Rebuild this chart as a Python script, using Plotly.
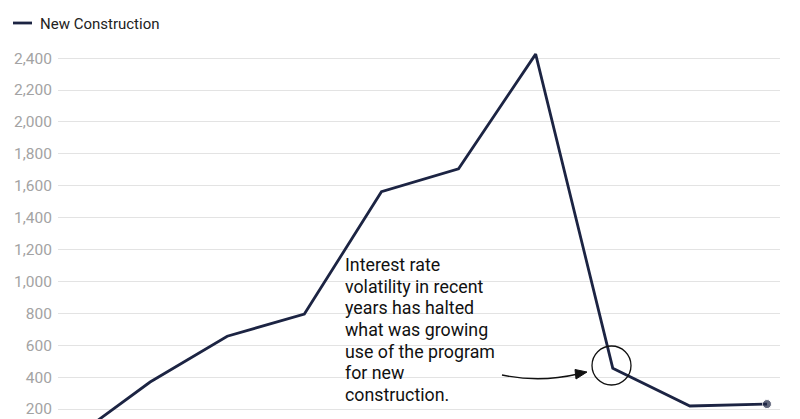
import plotly.graph_objects as go

# ---- data ----
years = [2014, 2015, 2016, 2017, 2018, 2019, 2020, 2021, 2022, 2023]
new_construction = [15, 369, 656, 795, 1562, 1706, 2425, 456, 219, 231]
y_ticks = [200, 400, 600, 800, 1000, 1200, 1400, 1600, 1800, 2000, 2200, 2400]
series_name = "New Construction"
note_lines = ["Interest rate", "volatility in recent", "years has halted", "what was growing",
              "use of the program", "for new", "construction."]

OFF = 8  # page body margin
W, H = 800 - OFF, 419 - OFF
ML, MR, MT, MB = 58 - OFF, 20, 40 - OFF, 0
PW, PH = W - ML - MR, H - MT - MB


def px(x):  # page pixel -> paper
    return (x - OFF - ML) / PW


def py(y):
    return (H - MB - (y - OFF)) / PH


navy = "#1c2443"

fig = go.Figure()
fig.add_trace(go.Scatter(
    x=years, y=new_construction, mode="lines+markers", name=series_name,
    line=dict(color=navy, width=2.8),
    marker=dict(size=[0] * (len(years) - 1) + [9], color=navy),
    showlegend=False, cliponaxis=True,
))

shapes = [
    dict(type="line", xref="paper", yref="paper", x0=px(13), x1=px(32), y0=py(23), y1=py(23),
         line=dict(color=navy, width=2.8)),
    dict(type="circle", xref="paper", yref="paper", x0=px(592), x1=px(631), y0=py(385), y1=py(346),
         line=dict(color="#111111", width=1.3)),
    dict(type="path", xref="paper", yref="paper",
         path=f"M {px(502)},{py(375)} Q {px(540)},{py(383)} {px(578)},{py(374)}",
         line=dict(color="#111111", width=1.3)),
    dict(type="path", xref="paper", yref="paper",
         path=f"M {px(587)},{py(372)} L {px(575)},{py(369.5)} L {px(576)},{py(379)} Z",
         fillcolor="#111111", line=dict(color="#111111", width=1)),
]

annotations = [
    dict(xref="paper", yref="paper", x=px(38), y=py(24), xanchor="left", yanchor="middle",
         text=series_name, showarrow=False, font=dict(size=15, color="#222222")),
]
for i, line in enumerate(note_lines):
    baseline = 270.7 + 21.7 * i
    annotations.append(dict(
        xref="paper", yref="paper", x=px(343), y=py(baseline - 6.3), xanchor="left",
        yanchor="middle", text=line, showarrow=False, align="left",
        font=dict(size=17.8, color="#111111")))

# plot spans page y 40..419 -> value range with 0.1595 px per unit
y_lo = 200 - (419 - 409) / 0.1595
y_hi = y_lo + PH / 0.1595

fig.update_layout(
    width=W, height=H,
    margin=dict(l=ML, r=MR, t=MT, b=MB, pad=0),
    paper_bgcolor="white", plot_bgcolor="white",
    font=dict(family="Roboto, sans-serif"),
    shapes=shapes, annotations=annotations,
    xaxis=dict(range=[years[0] - 0.195, years[-1] + 0.169], showgrid=False, zeroline=False,
               showticklabels=False, showline=False, ticks=""),
    yaxis=dict(range=[y_lo, y_hi], tickvals=y_ticks, tickformat=",", showgrid=True,
               gridcolor="#e3e3e3", gridwidth=1, zeroline=False, showline=False,
               tickfont=dict(size=15.5, color="#a3a3a3"), ticks="", ticklabelstandoff=5),
)

fig.write_html("out.html")
